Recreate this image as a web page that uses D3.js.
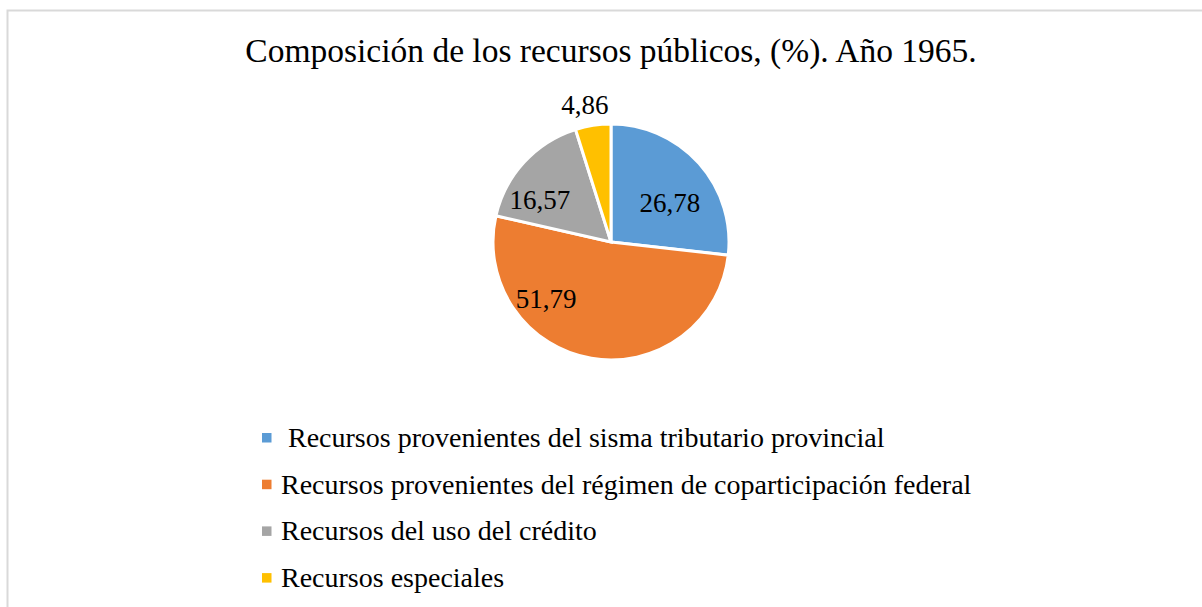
<!DOCTYPE html>
<html>
<head>
<meta charset="utf-8">
<script src="https://cdn.jsdelivr.net/npm/d3@7"></script>
<style>
  body { margin: 0; background: #fff; }
  text { font-family: "Liberation Serif", "Times New Roman", Times, serif; fill: #000; }
</style>
</head>
<body>
<div id="chart"></div>
<script>
var categories = [
  " Recursos provenientes del sisma tributario provincial",
  "Recursos provenientes del régimen de coparticipación federal",
  "Recursos del uso del crédito",
  "Recursos especiales"
];
var values = [26.78, 51.79, 16.57, 4.86];
var labels = ["26,78", "51,79", "16,57", "4,86"];
var colors = ["#5b9bd5", "#ed7d31", "#a5a5a5", "#ffc000"];

var width = 1202, height = 607;
var cx = 611, cy = 242, radius = 118;

var svg = d3.select("#chart")
    .append("svg")
    .attr("width", width)
    .attr("height", height);

svg.append("rect")
    .attr("x", 7.5).attr("y", 10.5)
    .attr("width", 1220).attr("height", 620)
    .attr("fill", "#fff")
    .attr("stroke", "#d9d9d9")
    .attr("stroke-width", 2);

svg.append("text")
    .attr("x", 611).attr("y", 62)
    .attr("text-anchor", "middle")
    .style("font-size", "33.5px")
    .text("Composición de los recursos públicos, (%). Año 1965.");

var g = svg.append("g")
    .attr("transform", "translate(" + cx + "," + cy + ")");

var pie = d3.pie().sort(null).value(function(d) { return d; });
var pieData = pie(values);

var arc = d3.arc().innerRadius(0).outerRadius(radius);

g.selectAll("path")
    .data(pieData)
    .enter()
    .append("path")
    .attr("d", arc)
    .attr("fill", function(d) { return colors[d.index]; })
    .attr("stroke", "white")
    .style("stroke-width", "3px");

// label placement: inside slices except the small one, nudged like Excel's best fit
var inner = d3.arc().innerRadius(radius * 0.6).outerRadius(radius * 0.6);
var outer = d3.arc().innerRadius(radius * 1.18).outerRadius(radius * 1.18);
var nudge = [[6, 8], [-53, -13], [-19, 6], [-5, 0]];

g.selectAll("text.lbl")
    .data(pieData)
    .enter()
    .append("text")
    .attr("class", "lbl")
    .attr("text-anchor", "middle")
    .attr("dy", "0.35em")
    .style("font-size", "27px")
    .attr("transform", function(d) {
        var c = (d.data < 10 ? outer : inner).centroid(d);
        var n = nudge[d.index];
        return "translate(" + (c[0] + n[0]) + "," + (c[1] + n[1]) + ")";
    })
    .text(function(d) { return labels[d.index]; });

var legend = svg.append("g")
    .attr("transform", "translate(262,437.5)");

var item = legend.selectAll("g")
    .data(categories)
    .enter()
    .append("g")
    .attr("transform", function(d, i) { return "translate(0," + (i * 46.7) + ")"; });

item.append("rect")
    .attr("x", 0).attr("y", -4.5)
    .attr("width", 9.5).attr("height", 9.5)
    .attr("fill", function(d, i) { return colors[i]; });

item.append("text")
    .attr("x", 19)
    .attr("y", 9.5)
    .style("font-size", "28px")
    .style("white-space", "pre")
    .attr("xml:space", "preserve")
    .text(function(d) { return d; });
</script>
</body>
</html>
